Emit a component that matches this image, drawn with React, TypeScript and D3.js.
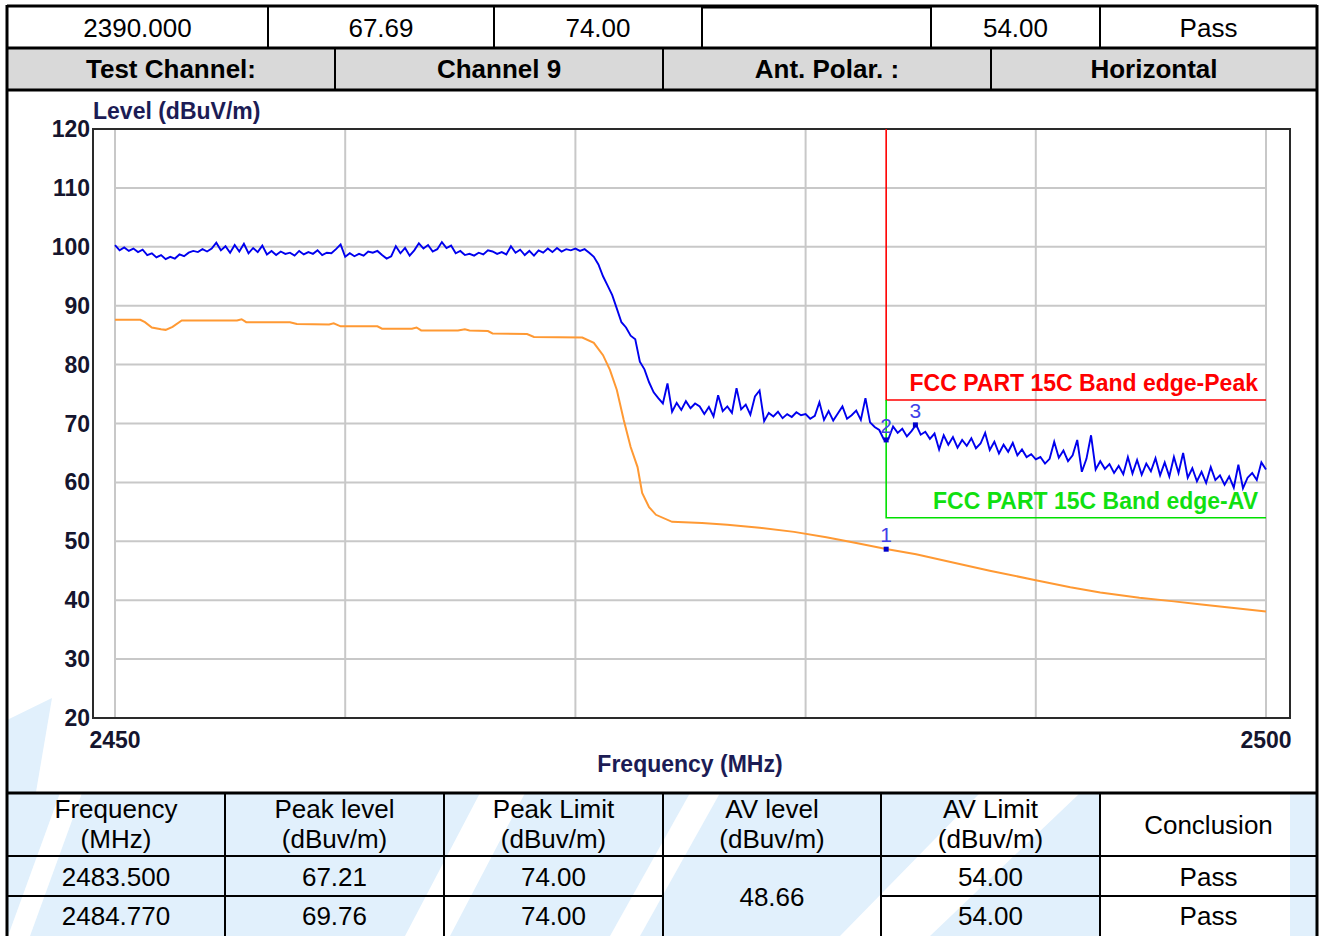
import React from 'react';
import * as d3 from 'd3';

// ---------- table data ----------
const TOP_ROW = ['2390.000', '67.69', '74.00', '', '54.00', 'Pass'];
const INFO_ROW = ['Test Channel:', 'Channel 9', 'Ant. Polar. :', 'Horizontal'];
const RESULT_HEAD = [
  ['Frequency', '(MHz)'],
  ['Peak level', '(dBuv/m)'],
  ['Peak Limit', '(dBuv/m)'],
  ['AV level', '(dBuv/m)'],
  ['AV Limit', '(dBuv/m)'],
  ['Conclusion'],
];
const RESULT_FREQ = ['2483.500', '2484.770'];
const RESULT_PEAK = ['67.21', '69.76'];
const RESULT_PEAK_LIMIT = ['74.00', '74.00'];
const RESULT_AV = '48.66';
const RESULT_AV_LIMIT = ['54.00', '54.00'];
const RESULT_CONCLUSION = ['Pass', 'Pass'];

// ---------- chart data ----------
const Y_TICKS = [20, 30, 40, 50, 60, 70, 80, 90, 100, 110, 120];
const X_GRID = [2450, 2460, 2470, 2480, 2490, 2500];
const X_TICK_LABELS = [2450, 2500];

const PEAK_START = 2450;
const PEAK_STEP = 0.2;
const PEAK_VALUES = [
  100.3, 99.4, 99.9, 99.3, 99.7, 99.1, 99.5, 98.6, 98.9, 98.2,
  98.6, 97.9, 98.3, 98.0, 98.7, 98.4, 99.0, 99.3, 99.1, 99.6,
  99.2, 99.7, 100.7, 99.4, 100.1, 99.0, 100.3, 99.2, 100.5, 98.9,
  99.8, 99.1, 100.2, 98.7, 99.3, 98.6, 99.2, 98.8, 99.0, 98.5,
  99.3, 98.7, 99.1, 98.8, 99.4, 98.6, 99.0, 98.9, 99.6, 100.4,
  98.3,
  98.9, 98.4, 98.8, 98.5, 99.2, 99.0, 99.3, 98.6, 98.0, 98.4,
  100.1, 98.9, 99.8, 98.5, 99.4, 100.6, 99.7, 100.3, 99.2, 99.6,
  100.8, 99.8, 100.2, 98.9, 99.3, 98.6, 98.8, 98.5, 99.0, 98.7,
  99.4, 99.2, 98.8, 99.1, 98.7, 100.1, 99.0, 99.5, 98.6, 99.3,
  98.5, 99.4, 99.0, 99.7, 99.1, 99.8, 99.2, 99.6, 99.4, 99.7,
  99.3, 99.6,
  99.0, 98.3, 97.0, 95.0, 93.4, 91.8, 89.5, 87.2, 86.3, 84.9,
  84.3, 80.5, 79.2, 77.0, 75.3, 74.3, 73.4, 76.8, 72.0,
  73.5, 72.3, 73.8, 72.6, 73.4, 72.9, 71.6, 72.8, 71.2, 74.8,
  72.1, 72.9, 71.8, 76.0, 72.4, 73.2, 71.5, 74.6, 75.6, 70.4,
  71.8, 71.2, 72.0, 70.9, 71.6, 71.1, 71.9, 71.4, 71.6, 70.8,
  71.3, 73.6, 70.6, 72.1, 70.5, 71.7, 72.9, 70.8, 71.4, 72.2,
  70.6, 74.3, 70.2, 69.4, 68.9, 67.3,
  67.4, 69.5, 68.4, 69.1, 67.8, 68.7, 69.8, 68.1, 68.6, 67.4,
  68.3, 65.6, 68.0, 66.4, 67.7, 65.9, 67.2, 66.2, 67.5, 65.8,
  66.6, 68.4, 65.5, 66.9, 64.9, 66.4, 65.2, 66.7, 64.6, 65.6,
  64.3, 64.8, 63.9, 64.3, 63.2, 64.0, 66.9, 64.2, 65.4, 63.6,
  64.6, 67.2, 61.8, 64.0, 68.0, 62.2, 63.6, 62.3, 63.1, 61.6,
  62.8, 61.4, 64.3, 61.5, 63.8, 61.3, 63.2, 61.9, 64.1, 61.2,
  63.4, 61.0, 64.3, 61.6, 65.0, 60.8, 62.4, 60.2, 61.8, 59.9,
  62.6, 60.4, 61.2, 59.6, 61.0, 59.1, 63.0, 59.0, 60.8, 61.6,
  60.4, 63.4, 62.2,
];

const AV_FREQ = [
  2450.0, 2451.1, 2451.3, 2451.6, 2452.0, 2452.2, 2452.5, 2452.9, 2455.3, 2455.5,
  2455.7, 2457.6, 2457.9, 2459.3, 2459.5, 2459.8, 2461.4, 2461.6, 2462.9, 2463.1,
  2463.3, 2464.9, 2465.2, 2465.4, 2466.2, 2466.4, 2467.9, 2468.2, 2470.3, 2470.8,
  2471.2, 2471.5, 2471.8, 2472.1, 2472.4, 2472.7, 2472.9, 2473.2, 2473.5, 2474.2,
  2475.5, 2476.6, 2478.0, 2479.5, 2480.9, 2482.2, 2483.5, 2484.8, 2486.3, 2488.0,
  2490.0, 2491.5, 2492.8, 2494.5, 2496.0, 2497.1, 2498.5, 2500.0,
];
const AV_VALUES = [
  87.6, 87.6, 87.2, 86.3, 86.0, 85.9, 86.4, 87.5, 87.5, 87.7,
  87.2, 87.2, 86.9, 86.8, 87.0, 86.5, 86.5, 86.1, 86.1, 86.3,
  85.8, 85.8, 86.0, 85.8, 85.7, 85.3, 85.2, 84.7, 84.6, 83.7,
  81.6, 79.1, 75.7, 70.6, 66.0, 62.6, 58.2, 55.8, 54.5, 53.3,
  53.1, 52.8, 52.3, 51.6, 50.7, 49.7, 48.7, 47.8, 46.5, 45.0,
  43.4, 42.2, 41.3, 40.4, 39.8, 39.3, 38.7, 38.1,
];

const LIMIT_EDGE = 2483.5;
const PEAK_LIMIT = 74;
const AV_LIMIT = 54;
const PEAK_LIMIT_LABEL = 'FCC PART 15C Band edge-Peak';
const AV_LIMIT_LABEL = 'FCC PART 15C Band edge-AV';

const MARKER_IDS = ['1', '2', '3'];
const MARKER_FREQ = [2483.5, 2483.5, 2484.77];
const MARKER_LEVEL = [48.66, 67.21, 69.76];

const FONT = "'Liberation Sans', Arial, sans-serif";

export default function App() {
  const W = 1325;
  const H = 936;
  const frame = { left: 93, right: 1290, top: 129, bottom: 718 };
  const x = d3.scaleLinear().domain([2450, 2500]).range([115, 1266]);
  const y = d3.scaleLinear().domain([20, 120]).range([frame.bottom, frame.top]);

  const peakPts = PEAK_VALUES.map((v, i) => [PEAK_START + i * PEAK_STEP, v] as [number, number]);
  const avPts = AV_FREQ.map((f, i) => [f, AV_VALUES[i]] as [number, number]);
  const line = d3
    .line<[number, number]>()
    .x((d) => x(d[0]))
    .y((d) => y(d[1]));

  const peakLimitPath = `M${x(LIMIT_EDGE)},${y(120)}V${y(PEAK_LIMIT)}H${x(2500)}`;
  const avLimitPath = `M${x(LIMIT_EDGE)},${y(PEAK_LIMIT)}V${y(AV_LIMIT)}H${x(2500)}`;

  // table geometry
  const L = 7;
  const R = 1317;
  const topCols = [L, 268, 494, 702, 931, 1100, R];
  const infoCols = [L, 335, 663, 991, R];
  const resCols = [L, 225, 444, 663, 881, 1100, R];
  const rowY = { t0: 6, t1: 48, t2: 90, b0: 793, b1: 856, b2: 896, b3: 936 };
  const mid = (a: number, b: number) => (a + b) / 2;
  const cellText = { fontFamily: FONT, fontSize: 26, textAnchor: 'middle' as const, fill: '#000' };

  const wmBlue = '#e1f0fc';
  // diagonal white bands of the faint watermark across the results table
  const bands = [
    [8, 30, 60, 82],
    [405, 450, 480, 525],
    [610, 640, 690, 720],
    [840, 930, 980, 1080],
  ];

  return (
    <svg
      width={W}
      height={H}
      style={{ position: 'absolute', left: 0, top: 0, background: '#fff' }}
      xmlns="http://www.w3.org/2000/svg"
    >
      <rect x={0} y={0} width={W} height={H} fill="#fff" />

      {/* watermark */}
      <rect x={L} y={rowY.b0} width={R - L} height={rowY.b3 - rowY.b0} fill={wmBlue} />
      {bands.map((b, i) => (
        <polygon
          key={i}
          points={`${b[0]},${rowY.b3} ${b[1]},${rowY.b3} ${b[3]},${rowY.b0} ${b[2]},${rowY.b0}`}
          fill="#fff"
        />
      ))}
      <rect x={1100} y={rowY.b0} width={190} height={rowY.b3 - rowY.b0} fill="#fff" />
      <polygon points={`1290,${rowY.b3} 1300,${rowY.b0} ${R},${rowY.b0} ${R},${rowY.b3}`} fill={wmBlue} />
      <polygon points={`${L},720 52,698 36,792 ${L},792`} fill={wmBlue} />

      {/* info row background */}
      <rect x={L} y={rowY.t1} width={R - L} height={rowY.t2 - rowY.t1} fill="#d9d9d9" />

      {/* top row */}
      {TOP_ROW.map((t, i) => (
        <text key={i} x={mid(topCols[i], topCols[i + 1])} y={37} {...cellText}>
          {t}
        </text>
      ))}
      {INFO_ROW.map((t, i) => (
        <text key={i} x={mid(infoCols[i], infoCols[i + 1])} y={78} {...cellText} fontWeight="bold">
          {t}
        </text>
      ))}

      {/* result table text */}
      {RESULT_HEAD.map((lines, i) =>
        lines.length === 2 ? (
          <g key={i}>
            <text x={mid(resCols[i], resCols[i + 1])} y={818} {...cellText}>
              {lines[0]}
            </text>
            <text x={mid(resCols[i], resCols[i + 1])} y={848} {...cellText}>
              {lines[1]}
            </text>
          </g>
        ) : (
          <text key={i} x={mid(resCols[i], resCols[i + 1])} y={834} {...cellText}>
            {lines[0]}
          </text>
        )
      )}
      {[0, 1].map((r) => {
        const by = r === 0 ? 886 : 925;
        return (
          <g key={r}>
            <text x={mid(resCols[0], resCols[1])} y={by} {...cellText}>{RESULT_FREQ[r]}</text>
            <text x={mid(resCols[1], resCols[2])} y={by} {...cellText}>{RESULT_PEAK[r]}</text>
            <text x={mid(resCols[2], resCols[3])} y={by} {...cellText}>{RESULT_PEAK_LIMIT[r]}</text>
            <text x={mid(resCols[4], resCols[5])} y={by} {...cellText}>{RESULT_AV_LIMIT[r]}</text>
            <text x={mid(resCols[5], resCols[6])} y={by} {...cellText}>{RESULT_CONCLUSION[r]}</text>
          </g>
        );
      })}
      <text x={mid(resCols[3], resCols[4])} y={906} {...cellText}>{RESULT_AV}</text>

      {/* table lines */}
      <g stroke="#000" fill="none">
        <line x1={L} x2={R} y1={rowY.t0} y2={rowY.t0} strokeWidth={3} />
        <line x1={702} x2={931} y1={rowY.t0 + 1} y2={rowY.t0 + 1} strokeWidth={3} />
        <line x1={L} x2={R} y1={rowY.t1} y2={rowY.t1} strokeWidth={3} />
        <line x1={L} x2={R} y1={rowY.t2} y2={rowY.t2} strokeWidth={3} />
        <line x1={L} x2={R} y1={rowY.b0} y2={rowY.b0} strokeWidth={3} />
        <line x1={L} x2={R} y1={rowY.b1} y2={rowY.b1} strokeWidth={2} />
        <line x1={L} x2={resCols[3]} y1={rowY.b2} y2={rowY.b2} strokeWidth={2} />
        <line x1={resCols[4]} x2={R} y1={rowY.b2} y2={rowY.b2} strokeWidth={2} />
        <line x1={L} x2={L} y1={rowY.t0 - 1} y2={H} strokeWidth={3} />
        <line x1={R} x2={R} y1={rowY.t0 - 1} y2={H} strokeWidth={3} />
        {topCols.slice(1, -1).map((c, i) => (
          <line key={'t' + i} x1={c} x2={c} y1={rowY.t0} y2={rowY.t1} strokeWidth={2} />
        ))}
        {infoCols.slice(1, -1).map((c, i) => (
          <line key={'i' + i} x1={c} x2={c} y1={rowY.t1} y2={rowY.t2} strokeWidth={2} />
        ))}
        {resCols.slice(1, -1).map((c, i) => (
          <line key={'r' + i} x1={c} x2={c} y1={rowY.b0} y2={H} strokeWidth={2} />
        ))}
      </g>

      {/* chart */}
      <g>
        <rect
          x={frame.left}
          y={frame.top}
          width={frame.right - frame.left}
          height={frame.bottom - frame.top}
          fill="#fff"
        />
        {Y_TICKS.map((t) => (
          <line key={'gy' + t} x1={x(2450)} x2={x(2500)} y1={y(t)} y2={y(t)} stroke="#c8c8c8" strokeWidth={2} />
        ))}
        {X_GRID.map((t) => (
          <line key={'gx' + t} x1={x(t)} x2={x(t)} y1={frame.top} y2={frame.bottom} stroke="#c8c8c8" strokeWidth={2} />
        ))}
        <rect
          x={frame.left}
          y={frame.top}
          width={frame.right - frame.left}
          height={frame.bottom - frame.top}
          fill="none"
          stroke="#2a2a2a"
          strokeWidth={2}
        />

        {/* limit lines */}
        <path d={peakLimitPath} fill="none" stroke="#ff0000" strokeWidth={1.6} />
        <path d={avLimitPath} fill="none" stroke="#00e000" strokeWidth={1.6} />
        <text
          x={1258}
          y={391}
          textAnchor="end"
          fontFamily={FONT}
          fontWeight="bold"
          fontSize={23}
          fill="#ff0000"
        >
          {PEAK_LIMIT_LABEL}
        </text>
        <text
          x={1258}
          y={509}
          textAnchor="end"
          fontFamily={FONT}
          fontWeight="bold"
          fontSize={23}
          fill="#10e010"
        >
          {AV_LIMIT_LABEL}
        </text>

        {/* traces */}
        <path d={line(avPts) || ''} fill="none" stroke="#ff9933" strokeWidth={2} />
        <path d={line(peakPts) || ''} fill="none" stroke="#0000ee" strokeWidth={1.9} strokeLinejoin="miter" />

        {/* markers */}
        {MARKER_IDS.map((id, i) => (
          <g key={id}>
            <rect
              x={x(MARKER_FREQ[i]) - 2.5}
              y={y(MARKER_LEVEL[i]) - 2.5}
              width={5}
              height={5}
              fill="#0000cc"
            />
            <text
              x={x(MARKER_FREQ[i])}
              y={y(MARKER_LEVEL[i]) - 7}
              textAnchor="middle"
              fontFamily={FONT}
              fontSize={21}
              fill="#4040e8"
            >
              {id}
            </text>
          </g>
        ))}

        {/* axes labels */}
        {Y_TICKS.map((t) => (
          <text
            key={'ty' + t}
            x={90}
            y={y(t) + 8}
            textAnchor="end"
            fontFamily={FONT}
            fontWeight="bold"
            fontSize={23}
            fill="#15152e"
          >
            {t}
          </text>
        ))}
        {X_TICK_LABELS.map((t) => (
          <text
            key={'tx' + t}
            x={x(t)}
            y={748}
            textAnchor="middle"
            fontFamily={FONT}
            fontWeight="bold"
            fontSize={23}
            fill="#15152e"
          >
            {t}
          </text>
        ))}
        <text x={93} y={119} fontFamily={FONT} fontWeight="bold" fontSize={23} fill="#1c1c55">
          Level (dBuV/m)
        </text>
        <text x={690} y={772} textAnchor="middle" fontFamily={FONT} fontWeight="bold" fontSize={23} fill="#1c1c55">
          Frequency (MHz)
        </text>
      </g>
    </svg>
  );
}
